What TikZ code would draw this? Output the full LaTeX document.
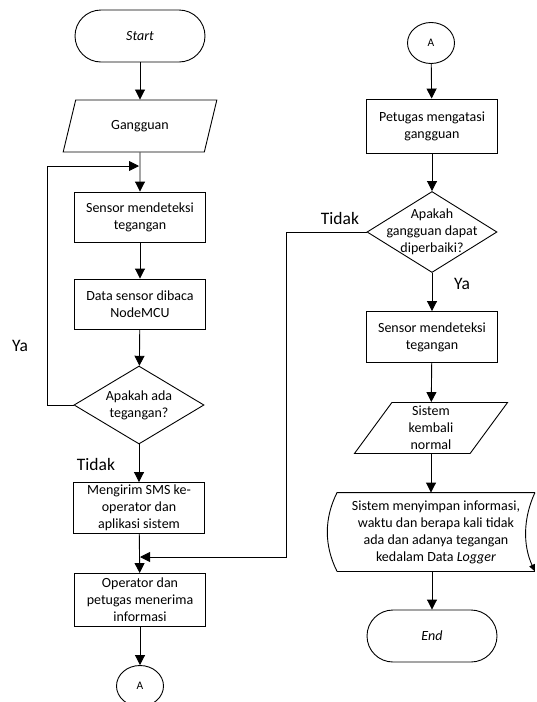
\documentclass[tikz,border=0pt]{standalone}
\usepackage{fontspec}
\setmainfont{Carlito}
\usepackage{tikz}
\usetikzlibrary{arrows.meta, shapes.geometric}

\begin{document}
\begin{tikzpicture}[x=1pt, y=-1pt,
  font=\fontsize{14}{17}\selectfont,
  term/.style={draw, rounded corners=26pt, minimum width=130pt,
               minimum height=52pt, font=\fontsize{14}{17}\selectfont\itshape},
  proc/.style={draw, minimum width=131pt, minimum height=50pt,
               align=center, inner sep=1pt},
  io/.style={draw, trapezium, trapezium left angle=64, trapezium right angle=116,
             trapezium stretches=true, minimum width=154pt, minimum height=52pt,
             align=center, inner sep=0pt},
  decision/.style={draw, diamond, minimum width=130pt, minimum height=78pt, inner sep=0pt},
  conn/.style={draw, ellipse, minimum width=47pt, minimum height=41pt, inner sep=0pt,
               font=\fontsize{11.5}{13}\selectfont},
  lbl/.style={font=\fontsize{17.5}{20}\selectfont},
  arr/.style={-{Triangle[length=10pt, width=10pt]}, line width=0.9pt},
  every node/.append style={line width=0.9pt}
]
  \useasboundingbox (0,0) rectangle (536,702);

  % left column
  \node[term] (start)  at (140,36)  {Start};
  \node[io]   (gang)   at (140,126) {Gangguan};
  \node[proc] (sens1)  at (140,217) {Sensor mendeteksi\\tegangan};
  \node[proc] (baca)   at (140,304) {Data sensor dibaca\\NodeMCU};
  \node[decision, label={[align=center]center:Apakah ada\\tegangan?}]
              (ada)    at (139,405) {};
  \node[proc, minimum height=51pt] (sms)    at (139,508) {Mengirim SMS ke-\\operator dan\\aplikasi sistem};
  \node[proc, minimum height=53pt] (terima) at (140,600) {Operator dan\\petugas menerima\\informasi};
  \node[conn] (a1)     at (140,686) {A};

  % right column
  \node[conn] (a2)     at (431,43)  {A};
  \node[proc, minimum height=54pt] (atasi)  at (432,126) {Petugas mengatasi\\gangguan};
  \node[decision, minimum height=81pt, label={[align=center]center:Apakah\\gangguan dapat\\diperbaiki?}]
              (baik)   at (432,232) {};
  \node[proc, minimum height=51pt] (sens2)  at (432,337) {Sensor mendeteksi\\tegangan};
  \node[io, minimum height=51pt]   (normal) at (431,428) {Sistem\\kembali\\normal};
  \node[align=center, minimum width=197pt, minimum height=78pt, inner sep=0pt]
              (logger) at (436,532) {Sistem menyimpan informasi,\\waktu dan berapa kali tidak\\ada dan adanya tegangan\\kedalam Data \textit{Logger}};
  \node[term] (end)    at (432,636) {End};

  % stored data outline
  \draw[line width=0.9pt] (logger.south west) .. controls +(-13,-26) and +(-13,26) .. (logger.north west)
    -- (logger.north east);
  \draw[line width=0.9pt] (logger.south west) -- (logger.south east);
  \draw[-{Triangle[length=7pt, width=6pt]}, line width=0.9pt]
    (logger.north east) .. controls +(-12,26) and +(-12,-26) .. (logger.south east);

  % labels
  \node[lbl] (ya1)  at (20,346)  {Ya};
  \node[lbl] (tdk1) at (96,464)  {Tidak};
  \node[lbl] (tdk2) at (340,218) {Tidak};
  \node[lbl] (ya2)  at (462,284) {Ya};

  \coordinate (loop) at (139,166);
  \coordinate (join) at (140,557);

  % arrows
  \draw[arr] (start) -- (gang);
  \draw[arr] (gang)  -- (sens1);
  \draw[arr] (sens1) -- (baca);
  \draw[arr] (baca)  -- (ada);
  \draw[arr] (ada)   -- (sms);
  \draw[arr] (sms)   -- (terima);
  \draw[arr] (terima) -- (a1);
  \draw[arr] (ada.west) -- ++(-26,0) |- (loop);

  \draw[arr] (a2)    -- (atasi);
  \draw[arr] (atasi) -- (baik);
  \draw[arr] (baik)  -- (sens2);
  \draw[arr] (sens2) -- (normal);
  \draw[arr] (normal.south) -- (normal.south |- logger.north);
  \draw[arr] (end |- logger.south) -- (end);
  \draw[arr] (baik.west) -- ++(-80,0) |- (join);
\end{tikzpicture}
\end{document}
